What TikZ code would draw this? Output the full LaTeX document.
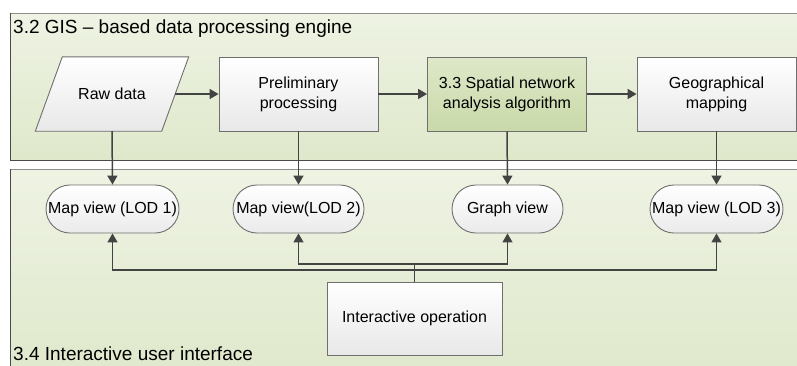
\documentclass[tikz,border=0pt]{standalone}
\usepackage{fontspec}
\setmainfont{Liberation Sans}
\usetikzlibrary{arrows.meta,shapes.misc}
\definecolor{panelTop}{HTML}{EEF3E3}
\definecolor{panelBot}{HTML}{DFE8CB}
\definecolor{panelLine}{HTML}{8F8F8F}
\definecolor{panelDark}{HTML}{4A4A4A}
\definecolor{boxLine}{HTML}{6F6F6F}
\definecolor{arrowCol}{HTML}{434343}
\definecolor{greenTop}{HTML}{DEE8C8}
\definecolor{greenBot}{HTML}{C9D9A9}
\tikzset{
  panel/.style={draw=panelLine, line width=1pt, top color=panelTop, bottom color=panelBot},
  panelshadow/.style={draw=panelDark, line width=1pt},
  procbox/.style={rectangle, draw=boxLine, line width=0.9pt, top color=white, bottom color=black!9,
    minimum width=159pt, minimum height=74pt, align=center, font=\fontsize{16}{20}\selectfont, inner sep=2pt},
  greenbox/.style={procbox, top color=greenTop, bottom color=greenBot},
  viewbox/.style={rounded rectangle, draw=boxLine, line width=0.9pt, top color=white, bottom color=black!8,
    minimum width=139pt, minimum height=48pt, inner xsep=3pt, font=\fontsize{16}{19}\selectfont},
  textnode/.style={rectangle, minimum width=126pt, minimum height=74pt, inner sep=0pt, font=\fontsize{16}{19}\selectfont},
  paneltitle/.style={anchor=base west, inner sep=0pt, font=\fontsize{19}{22}\selectfont},
  conn/.style={draw=arrowCol, line width=1.5pt},
  arr/.style={conn, -{Triangle[length=9pt,width=10pt]}},
}
\begin{document}
\begin{tikzpicture}[x=1pt,y=-1pt]
\useasboundingbox (0,0) rectangle (797,365);
\clip (0,0) rectangle (797,365);
\fill[white] (0,0) rectangle (797,365);
% panels
\draw[panel] (10,13) rectangle (810,160);
\draw[panelshadow] (10,13) -- (10,160) -- (810,160);
\draw[panel] (10,169) rectangle (810,380);
\draw[panelshadow] (10,169) -- (10,380);
\node[paneltitle] (t1) at (13,33) {3.2 GIS – based data processing engine};
\node[paneltitle] (t2) at (13,360) {3.4 Interactive user interface};
% top row
\node[textnode] (raw) at (112,94) {};
\shade[top color=white, bottom color=black!9]
  ([xshift=13.5pt]raw.north west) -- ([xshift=13.5pt]raw.north east) --
  ([xshift=-13.5pt]raw.south east) -- ([xshift=-13.5pt]raw.south west) -- cycle;
\draw[boxLine, line width=0.9pt]
  ([xshift=13.5pt]raw.north west) -- ([xshift=13.5pt]raw.north east) --
  ([xshift=-13.5pt]raw.south east) -- ([xshift=-13.5pt]raw.south west) -- cycle;
\node[textnode] (rawlabel) at (raw.center) {Raw data};
\node[procbox] (prelim) at (298.5,94) {Preliminary\\processing};
\node[greenbox] (spatial) at (507,94) {3.3 Spatial network\\analysis algorithm};
\node[procbox] (geo) at (716.5,94) {Geographical\\mapping};
% view row
\node[viewbox] (lod1) at (112.5,209) {Map view (LOD 1)};
\node[viewbox, minimum width=137pt] (lod2) at (298.5,209) {Map view(LOD 2)};
\node[viewbox, minimum width=117pt] (graph) at (507.5,209) {Graph view};
\node[viewbox] (lod3) at (716.5,209) {Map view (LOD 3)};
% interactive
\node[procbox, minimum width=175pt, minimum height=73pt] (inter) at (414.5,318.5) {Interactive operation};
% connectors
\draw[arr] (raw.east) -- (prelim.west);
\draw[arr] (prelim.east) -- (spatial.west);
\draw[arr] (spatial.east) -- (geo.west);
\draw[arr] (raw.south) -- (lod1.north);
\draw[arr] (prelim.south) -- (lod2.north);
\draw[arr] (spatial.south) -- (graph.north);
\draw[arr] (geo.south) -- (lod3.north);
\coordinate (j1) at (414.5,264);
\coordinate (j2) at (414.5,270);
\draw[conn] (inter.north) -- (j1);
\draw[arr] (j1) -| (lod2.south);
\draw[arr] (j1) -| (graph.south);
\draw[arr] (j2) -| (lod1.south);
\draw[arr] (j2) -| (lod3.south);
\end{tikzpicture}
\end{document}
